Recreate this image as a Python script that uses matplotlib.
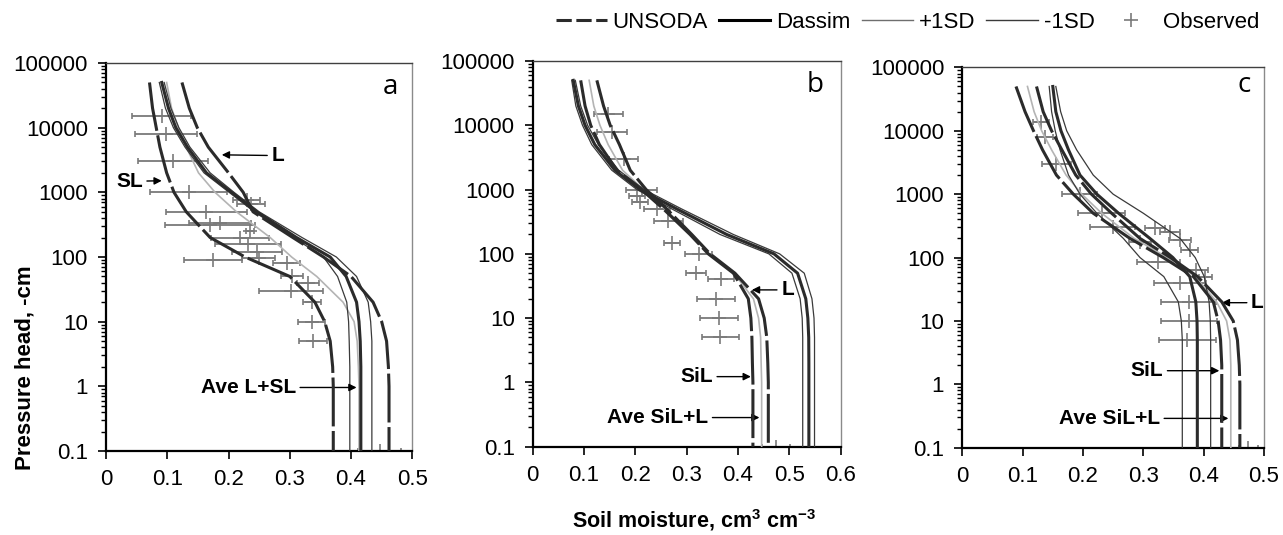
import matplotlib
matplotlib.use('Agg')
import matplotlib.pyplot as plt
from matplotlib.lines import Line2D
from matplotlib.ticker import LogLocator, MultipleLocator, FuncFormatter, NullFormatter

plt.rcParams['font.family'] = ['Liberation Sans', 'DejaVu Sans']
plt.rcParams['mathtext.default'] = 'regular'

# ---------------- data ----------------
H = [50000, 20000, 10000, 5000, 2000, 1000, 500, 200, 100, 50, 20, 10, 5, 2, 1, 0.1]

# panel a
a_sl_unsoda = [0.071, 0.076, 0.082, 0.088, 0.099, 0.111, 0.131, 0.170, 0.227, 0.300, 0.341, 0.357, 0.366, 0.370, 0.371, 0.371]
a_l_unsoda = [0.124, 0.136, 0.149, 0.167, 0.200, 0.224, 0.240, 0.305, 0.355, 0.400, 0.436, 0.450, 0.458, 0.461, 0.462, 0.462]
a_ave = [0.099, 0.107, 0.118, 0.131, 0.151, 0.178, 0.213, 0.268, 0.303, 0.344, 0.387, 0.405, 0.410, 0.412, 0.413, 0.413]
a_dassim = [0.091, 0.102, 0.114, 0.133, 0.164, 0.205, 0.246, 0.311, 0.366, 0.392, 0.409, 0.413, 0.415, 0.416, 0.416, 0.416]
a_minus = [0.087, 0.097, 0.110, 0.129, 0.160, 0.201, 0.242, 0.306, 0.355, 0.378, 0.393, 0.396, 0.397, 0.398, 0.398, 0.398]
a_plus = [0.095, 0.106, 0.119, 0.137, 0.170, 0.209, 0.250, 0.320, 0.376, 0.409, 0.428, 0.432, 0.434, 0.434, 0.434, 0.434]
a_obs_h = [15000, 8000, 3000, 1000, 750, 650, 500, 310, 330, 250, 200, 160, 120, 90, 95, 80, 50, 40, 30, 20, 10, 5, 0.1]
a_obs_t = [0.091, 0.098, 0.109, 0.135, 0.230, 0.237, 0.164, 0.170, 0.186, 0.235, 0.219, 0.232, 0.246, 0.175, 0.249, 0.295, 0.303, 0.330, 0.302, 0.336, 0.336, 0.338, 0.447]
a_obs_e = [0.048, 0.050, 0.057, 0.063, 0.022, 0.023, 0.066, 0.073, 0.050, 0.006, 0.047, 0.054, 0.041, 0.047, 0.027, 0.022, 0.018, 0.018, 0.052, 0.015, 0.022, 0.023, 0.035]

# panel b
b_sil_unsoda = [0.0935, 0.102, 0.113, 0.130, 0.164, 0.212, 0.2545, 0.3065, 0.342, 0.391, 0.420, 0.425, 0.427, 0.428, 0.429, 0.429]
b_l_unsoda = [0.125, 0.138, 0.151, 0.169, 0.190, 0.221, 0.261, 0.310, 0.3455, 0.394, 0.440, 0.451, 0.456, 0.458, 0.459, 0.459]
b_ave = [0.110, 0.119, 0.131, 0.147, 0.175, 0.216, 0.258, 0.308, 0.3435, 0.392, 0.430, 0.440, 0.444, 0.445, 0.446, 0.446]
b_dassim = [0.079, 0.089, 0.102, 0.121, 0.160, 0.209, 0.2805, 0.378, 0.470, 0.516, 0.532, 0.536, 0.5377, 0.538, 0.538, 0.538]
b_minus = [0.076, 0.084, 0.097, 0.115, 0.154, 0.203, 0.271, 0.365, 0.460, 0.505, 0.521, 0.525, 0.526, 0.526, 0.526, 0.526]
b_plus = [0.083, 0.0935, 0.107, 0.128, 0.1675, 0.217, 0.290, 0.391, 0.481, 0.529, 0.544, 0.548, 0.549, 0.549, 0.549, 0.549]
b_obs_h = [15000, 8000, 3000, 1000, 800, 630, 500, 320, 150, 100, 50, 40, 20, 10, 5, 0.1]
b_obs_t = [0.147, 0.154, 0.177, 0.212, 0.203, 0.209, 0.242, 0.264, 0.271, 0.323, 0.318, 0.367, 0.358, 0.363, 0.365, 0.474]
b_obs_e = [0.028, 0.029, 0.029, 0.031, 0.015, 0.015, 0.026, 0.028, 0.016, 0.026, 0.020, 0.025, 0.037, 0.037, 0.036, 0.027]

# panel c
c_sil_unsoda = [0.089, 0.104, 0.118, 0.133, 0.156, 0.184, 0.217, 0.278, 0.333, 0.383, 0.416, 0.424, 0.428, 0.430, 0.430, 0.430]
c_ave = [0.108, 0.119, 0.1315, 0.148, 0.172, 0.198, 0.231, 0.285, 0.340, 0.386, 0.4215, 0.438, 0.4436, 0.445, 0.445, 0.445]
c_l_unsoda = [0.123, 0.134, 0.148, 0.165, 0.188, 0.214, 0.2475, 0.2945, 0.345, 0.390, 0.430, 0.449, 0.456, 0.459, 0.460, 0.460]
c_dassim = [0.150, 0.155, 0.1635, 0.176, 0.195, 0.223, 0.259, 0.311, 0.349, 0.377, 0.387, 0.389, 0.3895, 0.3895, 0.3895, 0.3895]
c_minus = [0.144, 0.148, 0.154, 0.162, 0.176, 0.195, 0.223, 0.267, 0.2945, 0.334, 0.358, 0.363, 0.3646, 0.3646, 0.3646, 0.3646]
c_plus = [0.155, 0.163, 0.173, 0.1895, 0.217, 0.250, 0.300, 0.361, 0.386, 0.401, 0.409, 0.411, 0.4116, 0.4116, 0.4116, 0.4116]
c_obs_h = [14000, 8000, 3000, 1000, 500, 300, 290, 255, 190, 130, 178, 86, 63, 50, 40, 20, 10, 5, 0.1]
c_obs_t = [0.130, 0.137, 0.156, 0.195, 0.231, 0.249, 0.319, 0.344, 0.361, 0.377, 0.2945, 0.325, 0.388, 0.403, 0.361, 0.375, 0.376, 0.373, 0.474]
c_obs_e = [0.013, 0.014, 0.024, 0.029, 0.039, 0.037, 0.017, 0.017, 0.018, 0.014, 0.019, 0.036, 0.019, 0.010, 0.043, 0.046, 0.046, 0.047, 0.016]

x_max = [0.5, 0.6, 0.5]
panel_letters = ['a', 'b', 'c']
legend_labels = ['UNSODA', 'Dassim', '+1SD', '-1SD', 'Observed']

# ---------------- styles ----------------
DARK = '#2b2b2b'
THIN_D = '#3a3a3a'
THIN_G = '#6e6e6e'
LIGHT = '#b4b4b4'
OBS = '#7a7a7a'
unsoda_kw = dict(color=DARK, lw=2.2, dashes=(16, 1.5), solid_capstyle='butt', zorder=4)
dassim_kw = dict(color=DARK, lw=2.2, zorder=4)
minus_kw = dict(color=THIN_D, lw=0.9, zorder=3)
plus_kw = dict(color=THIN_D, lw=0.9, zorder=3)
ave_kw = dict(color=LIGHT, lw=1.2, zorder=3)
obs_kw = dict(fmt='+', color=OBS, ecolor=OBS, ms=10, mew=1.2, elinewidth=1.3, capsize=2.5, capthick=1.2, zorder=2)

fig = plt.figure(figsize=(12.83, 5.35), dpi=100)
rects = [
    (106 / 1283, 84 / 535, 306.3 / 1283, 388 / 535),
    (532.7 / 1283, 88.3 / 535, 308 / 1283, 385.7 / 535),
    (962.3 / 1283, 87.3 / 535, 301.7 / 1283, 380.3 / 535),
]
axes = [fig.add_axes(r) for r in rects]

TICKFS = 16


def setup(ax, xmax, letter, lpos):
    ax.set_yscale('log')
    ax.set_ylim(0.1, 100000)
    ax.set_xlim(0, xmax)
    ax.yaxis.set_major_locator(LogLocator(base=10, numticks=20))
    ax.yaxis.set_minor_locator(LogLocator(base=10, subs=range(2, 10), numticks=200))
    ax.yaxis.set_major_formatter(FuncFormatter(lambda v, p: f'{v:g}'))
    ax.yaxis.set_minor_formatter(NullFormatter())
    ax.xaxis.set_major_locator(MultipleLocator(0.1))
    ax.xaxis.set_major_formatter(FuncFormatter(lambda v, p: f'{round(v, 1):g}'))
    ax.tick_params(axis='both', which='major', direction='out', length=6, width=1.2,
                   labelsize=TICKFS, pad=7, color='black')
    ax.tick_params(axis='y', which='minor', direction='out', length=3.5, width=1.0, color='black')
    ax.tick_params(axis='x', which='minor', length=0)
    for s in ['left', 'bottom']:
        ax.spines[s].set_color('black')
        ax.spines[s].set_linewidth(1.6)
    ax.spines['top'].set_color('#404040')
    ax.spines['top'].set_linewidth(1.0)
    ax.spines['right'].set_color('#8a8a8a')
    ax.spines['right'].set_linewidth(1.0)
    ax.text(lpos[0], lpos[1], letter, transform=ax.transAxes, ha='center', va='center',
            fontsize=20, family=['Open Sans', 'DejaVu Sans'])


def draw(ax, unsodas, ave, dassim, minus, plus, oh, ot, oe):
    ax.errorbar(ot, oh, xerr=oe, **obs_kw)
    ax.plot(ave, H, **ave_kw)
    ax.plot(minus, H, **minus_kw)
    ax.plot(plus, H, **plus_kw)
    ax.plot(dassim, H, **dassim_kw)
    for u in unsodas:
        ax.plot(u, H, **unsoda_kw)


letter_pos = [(0.927, 0.939), (0.917, 0.938), (0.934, 0.954)]
for ax, xm, lt, lp in zip(axes, x_max, panel_letters, letter_pos):
    setup(ax, xm, lt, lp)

draw(axes[0], [a_sl_unsoda, a_l_unsoda], a_ave, a_dassim, a_minus, a_plus, a_obs_h, a_obs_t, a_obs_e)
draw(axes[1], [b_sil_unsoda, b_l_unsoda], b_ave, b_dassim, b_minus, b_plus, b_obs_h, b_obs_t, b_obs_e)
draw(axes[2], [c_sil_unsoda, c_l_unsoda], c_ave, c_dassim, c_minus, c_plus, c_obs_h, c_obs_t, c_obs_e)

# ---------------- annotations ----------------
arw = dict(arrowstyle='-|>', color='black', lw=1.0, mutation_scale=11, shrinkA=1, shrinkB=0)
ann_kw = dict(fontsize=15, fontweight='bold', va='center', arrowprops=arw)

axes[0].annotate('L', xy=(0.189, 3800), xytext=(0.270, 3700), ha='left', **ann_kw)
axes[0].annotate('SL', xy=(0.091, 1510), xytext=(0.060, 1480), ha='right', **ann_kw)
axes[0].annotate('Ave L+SL', xy=(0.409, 0.96), xytext=(0.310, 0.96), ha='right', **ann_kw)

axes[1].annotate('L', xy=(0.427, 27.5), xytext=(0.484, 27.5), ha='left', **ann_kw)
axes[1].annotate('SiL', xy=(0.425, 1.23), xytext=(0.351, 1.23), ha='right', **ann_kw)
axes[1].annotate('Ave SiL+L', xy=(0.4417, 0.284), xytext=(0.342, 0.284), ha='right', **ann_kw)

axes[2].annotate('L', xy=(0.430, 19.4), xytext=(0.4785, 19.4), ha='left', **ann_kw)
axes[2].annotate('SiL', xy=(0.426, 1.64), xytext=(0.333, 1.64), ha='right', **ann_kw)
axes[2].annotate('Ave SiL+L', xy=(0.441, 0.29), xytext=(0.3276, 0.29), ha='right', **ann_kw)

# ---------------- axis labels ----------------
fig.text(25 / 1283, 1 - 368 / 535, 'Pressure head, -cm', rotation=90, ha='center', va='center',
         fontsize=16, fontweight='bold')
fig.text(694.5 / 1283, 1 - 520 / 535, r'Soil moisture, cm$^{3}$ cm$^{-3}$', ha='center', va='center',
         fontsize=15.5, fontweight='bold')

# ---------------- legend ----------------
handles = [
    Line2D([], [], color=DARK, lw=2.2, dashes=(5, 1.5)),
    Line2D([], [], color='black', lw=2.2),
    Line2D([], [], color=THIN_G, lw=1.0),
    Line2D([], [], color=THIN_D, lw=1.0),
    Line2D([], [], color=OBS, lw=0, marker='+', ms=10, mew=1.2),
]
fig.legend(handles, legend_labels, ncol=5, loc='center right', bbox_to_anchor=(0.99, 0.958),
           frameon=False, handlelength=2.3, handletextpad=0.27, columnspacing=0.5, borderpad=0,
           fontsize=16)

fig.savefig('out.png', dpi=100)
